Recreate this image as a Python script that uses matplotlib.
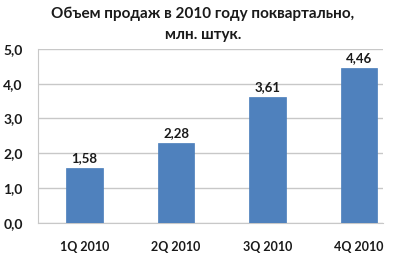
import matplotlib
matplotlib.use("Agg")
import matplotlib.pyplot as plt

categories = ["1Q 2010", "2Q 2010", "3Q 2010", "4Q 2010"]
values = [1.58, 2.28, 3.61, 4.46]
yticks = [0.0, 1.0, 2.0, 3.0, 4.0, 5.0]
title = "Объем продаж в 2010 году поквартально,\nмлн. штук."

W, H = 395, 266
fig = plt.figure(figsize=(W / 100, H / 100), dpi=100)
fig.patch.set_facecolor("white")
ax = fig.add_axes([38 / W, (H - 222.7) / H, (383 - 38) / W, (222.7 - 49) / H])

font = "Lato"
x = list(range(len(categories)))
bars = ax.bar(x, values, width=0.40, color="#4F81BD", edgecolor="#4A7EBB", linewidth=0.5, zorder=3)

for xi, v in zip(x, values):
    ax.text(xi, v + 0.12, f"{v:.2f}".replace(".", ","), ha="center", va="bottom",
            fontsize=9.5, fontweight="bold", family=font, color="#1a1a1a")

ax.set_xlim(-0.508, 3.262)
ax.set_ylim(0, 5)
ax.set_yticks(yticks)
ax.set_yticklabels([f"{t:.1f}".replace(".", ",") for t in yticks], fontsize=10,
                   fontweight="bold", family=font, color="#1a1a1a")
ax.set_xticks(x)
ax.set_xticklabels(categories, fontsize=9, fontweight="bold", family=font, color="#1a1a1a")
ax.tick_params(axis="y", length=0, pad=11)
ax.tick_params(axis="x", length=0, pad=13)

ax.grid(axis="y", color="#C8C8C8", linewidth=1, zorder=0)
for s in ["top", "right"]:
    ax.spines[s].set_visible(False)
ax.spines["left"].set_color("#C8C8C8")
ax.spines["bottom"].set_color("#C8C8C8")

fig.text(203 / W, 1 - 7 / H, title, ha="center", va="top", fontsize=11,
         fontweight="bold", family=font, linespacing=1.6, color="#1a1a1a")

fig.savefig("out.png", dpi=100)
